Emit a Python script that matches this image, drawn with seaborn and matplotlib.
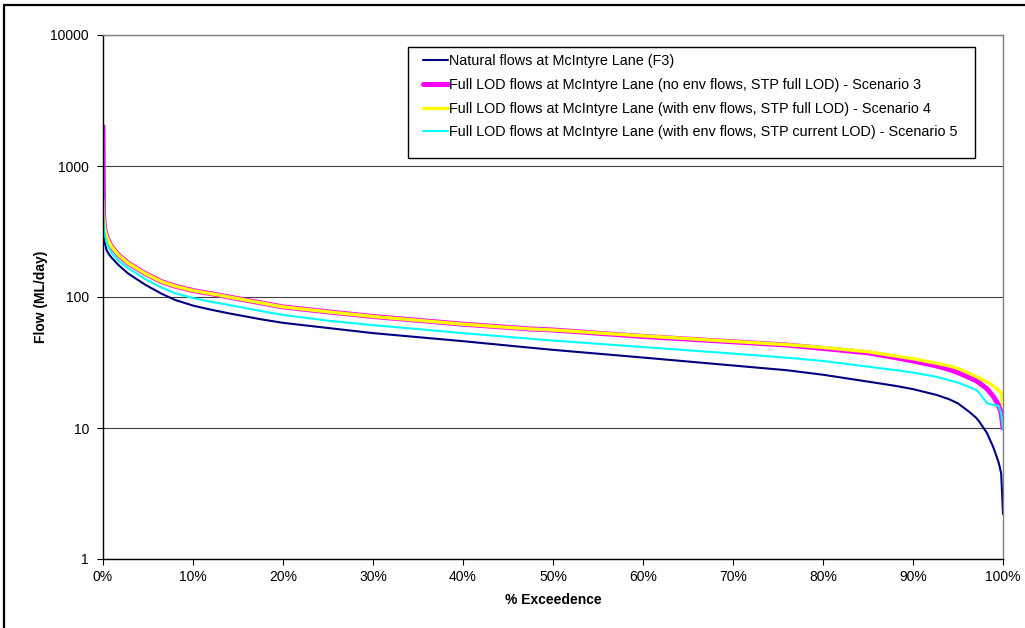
import numpy as np
import pandas as pd
import matplotlib
matplotlib.use("Agg")
import matplotlib.pyplot as plt
import seaborn as sns
from matplotlib.ticker import FixedLocator, FuncFormatter, NullLocator
from matplotlib.patches import Rectangle
from matplotlib.lines import Line2D

# ---------------- data ----------------
exceedance_pct = [0, 0.05, 0.2, 0.4, 0.7, 1.0, 1.7, 2.8, 4.7, 6.5, 8, 10, 12, 14, 17.6, 20, 25, 30,
                  40, 47.5, 50, 60, 70, 76, 80, 85, 88, 90, 92.6, 94, 95, 96.3, 97, 97.4, 98.2, 98.9,
                  99.5, 99.8, 100]

natural_f3 = [390, 300, 260, 227, 210, 198, 176, 151, 124, 106, 95, 86, 80, 75, 67.5, 63.5, 58, 53,
              46, 41, 39.5, 34.5, 30, 27.6, 25.5, 22.6, 21.0, 19.8, 17.9, 16.6, 15.4, 13.2, 12.0, 11.1, 9.2, 7.2,
              5.5, 4.5, 2.2]

scenario3_no_env = [2000, 420, 330, 290, 260, 240, 210, 181, 151, 131, 121, 112, 106, 100, 90, 84, 77, 71,
                    62, 57, 56, 50, 45.5, 43, 40.5, 37.5, 34.5, 32.5, 29.8, 28, 26.5, 24.2, 23, 22, 20, 17.5,
                    15, 13, 10]

scenario4_env_full = [550, 420, 330, 290, 260, 240, 210, 181, 151, 131, 121, 112, 106, 100, 90, 84, 77, 71,
                      62, 57, 56, 50.5, 45.8, 43.3, 41.2, 38.2, 35.5, 33.8, 31.2, 29.8, 28.5, 26, 24.8, 24, 22.5, 21,
                      19.5, 18.5, 15]

scenario5_env_current = [2000, 400, 300, 260, 235, 215, 190, 166, 137, 118, 107, 98, 92, 87, 78, 73, 66, 61,
                         53, 48, 46.5, 41.5, 37, 34.4, 32.5, 29.4, 27.7, 26.5, 24.6, 23.2, 22.2, 20.5, 19.5, 18.5, 15.5, 15,
                         14.8, 13, 9.8]

series_labels = [
    "Natural flows at McIntyre Lane (F3)",
    "Full LOD flows at McIntyre Lane (no env flows, STP full LOD) - Scenario 3",
    "Full LOD flows at McIntyre Lane (with env flows, STP full LOD) - Scenario 4",
    "Full LOD flows at McIntyre Lane (with env flows, STP current LOD) - Scenario 5",
]
y_ticks = [1, 10, 100, 1000, 10000]
y_tick_labels = ["1", "10", "100", "1000", "10000"]
x_ticks = [0, 10, 20, 30, 40, 50, 60, 70, 80, 90, 100]

# ---------------- styling ----------------
sns.set_theme(style="white")
plt.rcParams['font.family'] = ['Liberation Sans', 'DejaVu Sans']

colors = ["#000080", "#FF00FF", "#FFFF00", "#00FFFF"]
widths = [1.5, 3.6, 2.4, 1.5]

W, H = 1025, 628
fig = plt.figure(figsize=(W / 100, H / 100), dpi=100)
fig.patch.set_facecolor("white")
ax = fig.add_axes([103 / W, 1 - 559 / H, 900 / W, 524 / H])

all_series = [natural_f3, scenario3_no_env, scenario4_env_full, scenario5_env_current]
for vals, lab, c, lw in zip(all_series, series_labels, colors, widths):
    df = pd.DataFrame({"pct": exceedance_pct, "flow": vals})
    sns.lineplot(data=df, x="pct", y="flow", ax=ax, color=c, linewidth=lw,
                 label=lab, sort=False, estimator=None, legend=False)

ax.set_yscale("log")
ax.set_ylim(1, 10000)
ax.set_xlim(0, 100)
ax.yaxis.set_major_locator(FixedLocator(y_ticks))
ax.yaxis.set_major_formatter(FuncFormatter(lambda v, p: y_tick_labels[y_ticks.index(int(round(v)))] if int(round(v)) in y_ticks else ""))
ax.yaxis.set_minor_locator(NullLocator())
ax.xaxis.set_major_locator(FixedLocator(x_ticks))
ax.xaxis.set_major_formatter(FuncFormatter(lambda v, p: f"{int(round(v))}%"))

ax.grid(axis="y", which="major", color="#404040", linewidth=0.8)
ax.grid(axis="x", visible=False)
ax.set_axisbelow(True)

ax.tick_params(axis="both", which="major", direction="out", length=4, width=0.8,
               color="black", labelsize=10, labelcolor="black", pad=4)
ax.tick_params(axis="y", left=True, pad=6)
ax.tick_params(axis="x", bottom=True)

for side in ["left", "bottom"]:
    ax.spines[side].set_color("black")
    ax.spines[side].set_linewidth(1.0)
for side in ["top", "right"]:
    ax.spines[side].set_color("#808080")
    ax.spines[side].set_linewidth(1.0)

ax.set_xlabel("% Exceedence", fontsize=10, fontweight="bold", color="black")
ax.set_ylabel("Flow (ML/day)", fontsize=10, fontweight="bold", color="black")
ax.xaxis.set_label_coords(0.5, (559 - 593) / 524)
ax.yaxis.set_label_coords((48 - 103) / 900, 0.5)

# legend box and entries
box_l, box_r, box_t, box_b = 408, 975, 47, 158
ax.add_patch(Rectangle(((box_l - 103) / 900, (559 - box_b) / 524),
                       (box_r - box_l) / 900, (box_b - box_t) / 524,
                       transform=ax.transAxes, facecolor="white", edgecolor="black",
                       linewidth=1.0, zorder=5))
handles = [Line2D([], [], color=c, linewidth=lw) for c, lw in zip(colors, widths)]
leg = ax.legend(handles, series_labels, loc="upper left",
                bbox_to_anchor=((423 - 103) / 900, (559 - 54) / 524),
                frameon=False, fontsize=10.4, handlelength=1.7, handletextpad=0.1,
                labelspacing=0.68, borderpad=0, borderaxespad=0)
leg.set_zorder(6)
for t in leg.get_texts():
    t.set_color("black")

# outer figure border (top and left edges visible)
fig.add_artist(Line2D([4 / W, 1.0], [1 - 5 / H, 1 - 5 / H], transform=fig.transFigure,
                      color="black", linewidth=1.6))
fig.add_artist(Line2D([4 / W, 4 / W], [0.0, 1 - 5 / H], transform=fig.transFigure,
                      color="black", linewidth=1.6))

fig.savefig("out.png", dpi=100, facecolor="white")
